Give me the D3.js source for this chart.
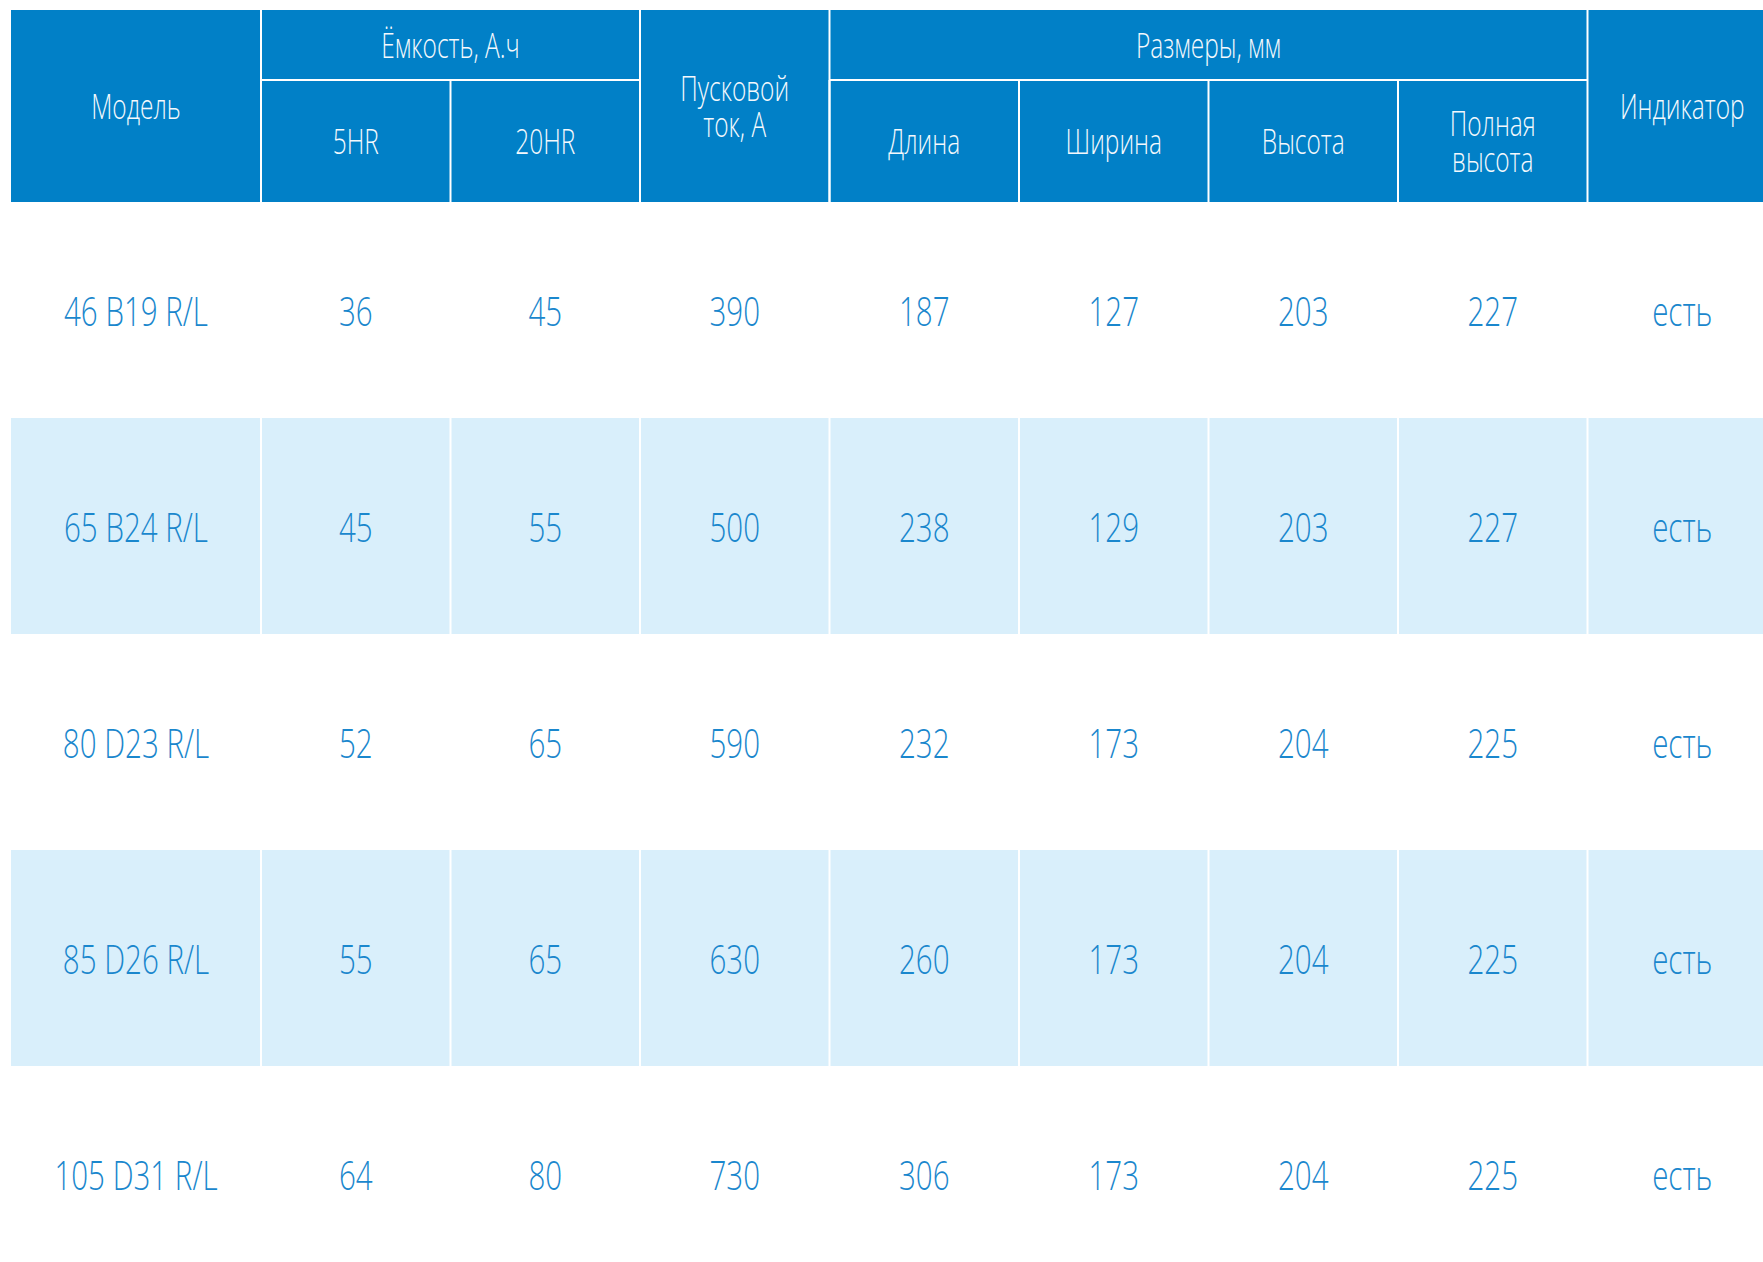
<!DOCTYPE html>
<html>
<head>
<meta charset="utf-8">
<script src="https://cdn.jsdelivr.net/npm/d3@7"></script>
<style>
  html, body { margin: 0; padding: 0; background: #fff; }
  svg { display: block; }
</style>
</head>
<body>
<div id="chart"></div>
<script>
// table values
var models = ["46 B19 R/L", "65 B24 R/L", "80 D23 R/L", "85 D26 R/L", "105 D31 R/L"];
var cap5hr = [36, 45, 52, 55, 64];
var cap20hr = [45, 55, 65, 65, 80];
var startCurrent = [390, 500, 590, 630, 730];
var lengthMm = [187, 238, 232, 260, 306];
var widthMm = [127, 129, 173, 173, 173];
var heightMm = [203, 203, 204, 204, 204];
var fullHeightMm = [227, 227, 225, 225, 225];
var indicator = ["есть", "есть", "есть", "есть", "есть"];

var columns = ["model", "c5", "c20", "start", "len", "wid", "hgt", "full", "ind"];
var columnData = [models, cap5hr, cap20hr, startCurrent, lengthMm, widthMm, heightMm, fullHeightMm, indicator];

// header labels: [text lines, first column, last column, level]
var headerCells = [
  [["Модель"], 0, 0, "both"],
  [["Ёмкость, А.ч"], 1, 2, "top"],
  [["5HR"], 1, 1, "bottom"],
  [["20HR"], 2, 2, "bottom"],
  [["Пусковой", "ток, А"], 3, 3, "both"],
  [["Размеры, мм"], 4, 7, "top"],
  [["Длина"], 4, 4, "bottom"],
  [["Ширина"], 5, 5, "bottom"],
  [["Высота"], 6, 6, "bottom"],
  [["Полная", "высота"], 7, 7, "bottom"],
  [["Индикатор"], 8, 8, "both"]
];

;(function () {
  var W = 1763, H = 1262;
  var left = 11, modelW = 250, colW = 189.5;
  var headTop = 10, headMid = 80, headBottom = 202, rowStep = 216;
  var headBlue = "#0180c7", shade = "#d9effb", bodyText = "#1a87cd";
  var squeeze = 0.72;

  var edges = [left];
  columns.forEach(function (c, i) { edges.push(edges[i] + (i === 0 ? modelW : colW)); });
  function colX(i) { return edges[i]; }
  function colMid(a, b) { return (edges[a] + edges[b + 1]) / 2; }

  var y = d3.scaleBand()
    .domain(d3.range(models.length))
    .range([headBottom, headBottom + rowStep * models.length]);

  var svg = d3.select("#chart").append("svg")
    .attr("width", W).attr("height", H);

  // header block
  svg.append("rect")
    .attr("x", left).attr("y", headTop)
    .attr("width", W - left).attr("height", headBottom - headTop)
    .attr("fill", headBlue);

  // shaded body rows
  svg.selectAll("rect.band")
    .data(d3.range(models.length).filter(function (i) { return i % 2 === 1; }))
    .enter().append("rect")
    .attr("class", "band")
    .attr("x", left).attr("y", function (i) { return y(i); })
    .attr("width", W - left).attr("height", y.bandwidth())
    .attr("fill", shade);

  // white separators in header
  var grid = svg.append("g").attr("stroke", "#fff").attr("stroke-width", 2);
  headerCells.forEach(function (h) {
    var y0 = h[3] === "bottom" ? headMid : headTop;
    if (h[1] > 0) {
      grid.append("line")
        .attr("x1", colX(h[1])).attr("x2", colX(h[1]))
        .attr("y1", y0).attr("y2", headBottom);
    }
    if (h[3] === "top") {
      grid.append("line")
        .attr("x1", colX(h[1])).attr("x2", colX(h[2] + 1))
        .attr("y1", headMid).attr("y2", headMid);
    }
  });

  // white separators in shaded rows
  y.domain().filter(function (i) { return i % 2 === 1; }).forEach(function (r) {
    d3.range(1, columns.length).forEach(function (c) {
      grid.append("line")
        .attr("x1", colX(c)).attr("x2", colX(c))
        .attr("y1", y(r)).attr("y2", y(r) + y.bandwidth());
    });
  });

  // one <text> per cell, extra lines as tspans
  function label(parent, x, base, lines, size, color, lead) {
    var t = parent.append("g")
      .attr("transform", "translate(" + x + "," + base + ") scale(" + squeeze + ",1)")
      .append("text")
      .attr("text-anchor", "middle")
      .attr("font-family", "'Open Sans', sans-serif")
      .attr("font-weight", 300)
      .attr("font-size", size)
      .attr("fill", color);
    lines.forEach(function (s, k) {
      t.append("tspan").attr("x", 0).attr("y", k * (lead || 0)).text(s);
    });
  }

  // header text
  var head = svg.append("g");
  headerCells.forEach(function (h) {
    var lines = h[0], cx = colMid(h[1], h[2]);
    var yTop = h[3] === "bottom" ? headMid : headTop;
    var yBot = h[3] === "top" ? headMid : headBottom;
    var mid = (yTop + yBot) / 2, lead = 37;
    var base = mid + 13 - (lines.length - 1) / 2 * lead;
    label(head, cx, base, lines, 34, "#f4f9fd", lead);
  });

  // body text
  var body = svg.append("g");
  columnData.forEach(function (vals, c) {
    vals.forEach(function (v, r) {
      label(body, colMid(c, c), y(r) + y.bandwidth() / 2 + 16, [String(v)], 41, bodyText);
    });
  });
})();
</script>
</body>
</html>
